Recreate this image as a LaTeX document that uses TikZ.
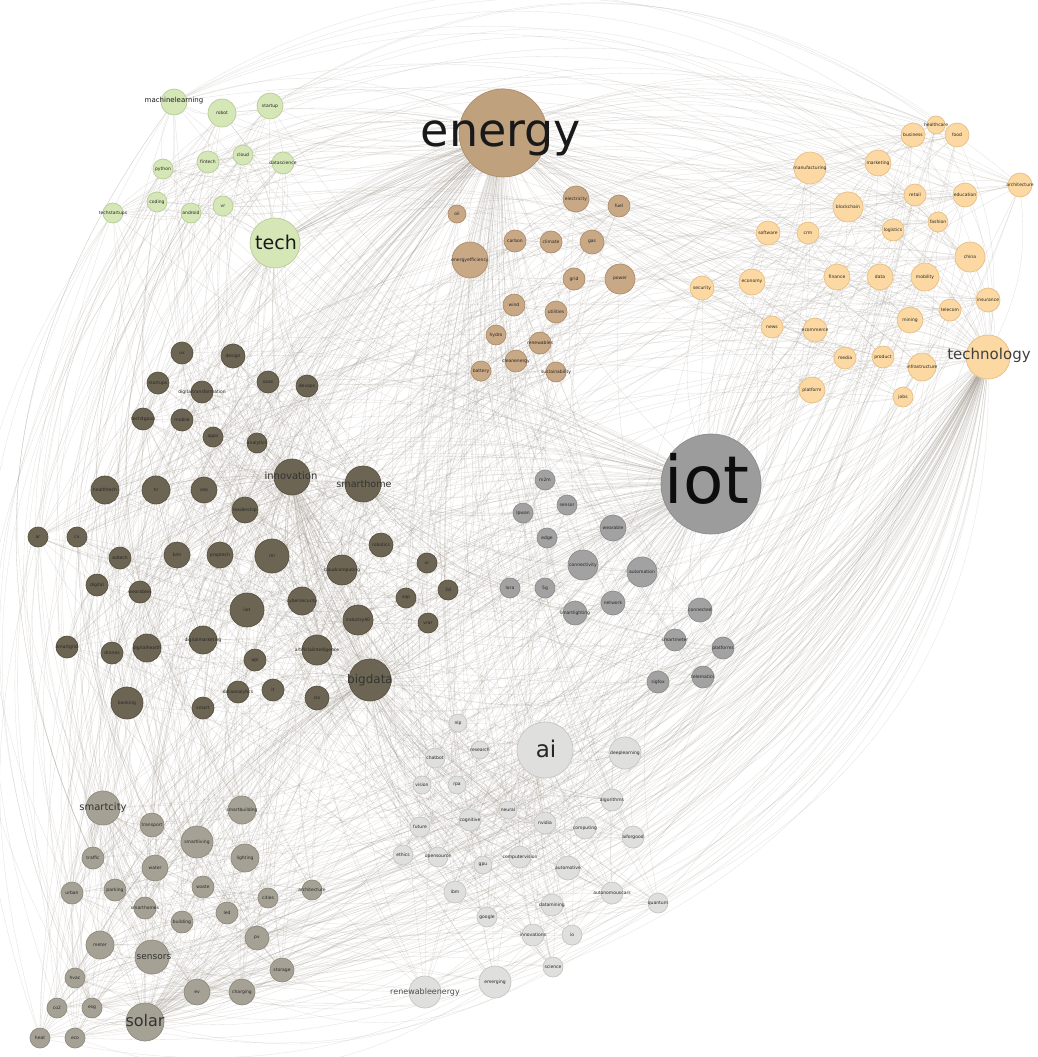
\documentclass[tikz,border=0pt]{standalone}
\usepackage{fontspec}
\setmainfont{DejaVu Sans}

\definecolor{cgreen}{HTML}{D5E6B7}\definecolor{cgreenb}{HTML}{B9CC98}
\definecolor{cbrown}{HTML}{C9A985}\definecolor{cbrownb}{HTML}{AD8D6B}
\definecolor{corange}{HTML}{FCD9A2}\definecolor{corangeb}{HTML}{E6BF86}
\definecolor{cdark}{HTML}{6D6553}\definecolor{cdarkb}{HTML}{59513F}
\definecolor{ciot}{HTML}{A2A2A2}\definecolor{ciotb}{HTML}{8C8C8C}
\definecolor{cai}{HTML}{DFDFDD}\definecolor{caib}{HTML}{C5C5C2}
\definecolor{csolar}{HTML}{A5A295}\definecolor{csolarb}{HTML}{8D8A7D}
\definecolor{edgec}{HTML}{9C9488}

\pgfdeclarelayer{bg}
\pgfdeclarelayer{links}
\pgfsetlayers{bg,links,main}

% every connector curves clockwise, as the layout program draws them
\tikzset{
  vtx/.style={circle, inner sep=0pt, line width=0.7pt},
  gnode/.style={vtx, fill=cgreen, draw=cgreenb},
  enode/.style={vtx, fill=cbrown, draw=cbrownb},
  onode/.style={vtx, fill=corange, draw=corangeb},
  dnode/.style={vtx, fill=cdark, draw=cdarkb},
  inode/.style={vtx, fill=ciot, draw=ciotb},
  anode/.style={vtx, fill=cai, draw=caib},
  snode/.style={vtx, fill=csolar, draw=csolarb},
  lab/.style={font=\fontsize{4.5}{5}\selectfont, text=black!85, inner sep=0pt},
  biglab/.style={inner sep=0pt, text=black!90},
  link/.style={draw=edgec, line width=0.3pt, opacity=0.3, bend right=15},
  farlink/.style={link, opacity=0.28},
}

\begin{document}
\begin{tikzpicture}[x=1pt,y=-1pt]
\begin{pgfonlayer}{bg}
  \fill[white] (0,0) rectangle (1038,1057);
\end{pgfonlayer}
\useasboundingbox (0,0) rectangle (1038,1057);

% ---------- green cluster ----------
\node[gnode, minimum size=50pt] (g0) at (275,243) {};
\node[biglab, font=\fontsize{19}{19}\selectfont] (g0t) at (276,242) {tech};
\node[gnode, minimum size=26pt] (g1) at (174,102) {};
\node[biglab, font=\fontsize{7}{7}\selectfont] (g1t) at (174,101) {machinelearning};
\foreach \nm/\x/\y/\dm/\lb in {g2/222/113/28/robot, g3/270/106/26/startup,
  g4/163/169/20/python, g5/208/162/22/fintech, g6/243/155/20/cloud,
  g7/283/163/22/datascience, g8/113/213/20/techstartups, g9/157/202/20/coding,
  g10/191/213/20/android, g11/223/206/20/vr}
  \node[gnode, minimum size=\dm pt, label={[lab]center:\lb}] (\nm) at (\x,\y) {};

% ---------- energy cluster ----------
\node[enode, fill=cbrown!95!black, minimum size=88pt] (e0) at (503,133) {};
\node[biglab, font=\fontsize{46}{46}\selectfont] (e0t) at (501,138) {energy};
\foreach \nm/\x/\y/\dm/\lb in {e1/457/214/18/oil, e2/576/199/26/electricity,
  e3/619/206/22/fuel, e4/515/241/22/carbon, e5/551/242/22/climate, e6/592/242/24/gas,
  e7/470/260/36/energyefficiency, e8/574/279/22/grid, e9/620/279/30/power,
  e10/514/305/22/wind, e11/556/312/22/utilities, e12/496/335/20/hydro,
  e13/540/343/22/renewables, e14/481/371/20/battery, e15/516/361/22/cleanenergy,
  e16/556/372/20/sustainability}
  \node[enode, minimum size=\dm pt, label={[lab]center:\lb}] (\nm) at (\x,\y) {};

% ---------- orange cluster ----------
\node[onode, minimum size=44pt] (o0) at (988,357) {};
\node[biglab, font=\fontsize{15}{15}\selectfont, text=black!75] (o0t) at (989,355) {technology};
\foreach \nm/\x/\y/\dm/\lb in {o1/936/125/18/healthcare, o2/913/135/24/business,
  o3/957/135/24/food, o4/810/168/32/manufacturing, o5/878/163/26/marketing,
  o6/1020/185/24/architecture, o7/915/195/22/retail, o8/965/195/24/education,
  o9/848/207/30/blockchain, o10/938/222/20/fashion, o11/893/230/22/logistics,
  o12/768/233/24/software, o13/808/233/22/crm, o14/970/257/30/china,
  o15/702/288/24/security, o16/752/282/26/economy, o17/837/277/26/finance,
  o18/880/277/26/data, o19/925/277/28/mobility, o20/988/300/24/insurance,
  o21/950/310/22/telecom, o22/910/320/26/mining, o23/772/327/22/news,
  o24/815/330/24/ecommerce, o25/845/358/22/media, o26/883/357/22/product,
  o27/922/367/28/infrastructure, o28/812/390/26/platform, o29/903/397/20/jobs}
  \node[onode, minimum size=\dm pt, label={[lab]center:\lb}] (\nm) at (\x,\y) {};

% ---------- dark cluster ----------
\node[dnode, minimum size=36pt] (d14) at (292,477) {};
\node[biglab, font=\fontsize{10}{10}\selectfont, text=black!80] (d14t) at (291,476) {innovation};
\node[dnode, minimum size=36pt] (d15) at (363,484) {};
\node[biglab, font=\fontsize{9.6}{10}\selectfont, text=black!80] (d15t) at (364,484) {smarthome};
\node[dnode, minimum size=42pt] (d40) at (370,680) {};
\node[biglab, font=\fontsize{12}{12}\selectfont, text=black!80] (d40t) at (370,680) {bigdata};
\foreach \nm/\x/\y/\dm/\lb in {d1/182/353/22/ux, d2/233/356/24/design,
  d3/158/383/22/startups, d4/202/392/22/digitaltransformation, d5/268/382/22/saas,
  d6/307/386/22/devops, d7/143/419/22/tech4good, d8/182/420/22/mobile,
  d9/213/437/20/apps, d10/257/443/20/analytics, d11/105/490/28/healthtech,
  d12/156/490/28/hr, d13/204/490/26/ceo, d16/245/510/26/leadership,
  d17/38/537/20/ar, d18/77/537/20/cx, d19/120/558/22/edtech, d20/177/555/26/bim,
  d21/220/555/26/proptech, d22/272/556/34/ml, d23/342/570/30/cloudcomputing,
  d24/381/545/24/robotics, d25/427/563/20/xr, d26/97/585/22/digital,
  d27/140/592/22/wearables, d28/247/610/34/iiot, d29/302/601/28/cybersecurity,
  d30/358/620/30/industry40, d31/406/598/20/sap, d32/448/590/20/3d,
  d33/428/623/20/vrar, d34/67/647/22/smartgrid, d35/112/653/22/drones,
  d36/147/648/28/digitalhealth, d37/203/640/28/digitalmarketing, d38/255/660/22/api,
  d39/317/650/30/artificialintelligence, d41/127/703/32/banking, d42/203/708/22/smart,
  d43/238/692/22/dataanalytics, d44/273/690/22/it, d45/317/698/24/cio}
  \node[dnode, minimum size=\dm pt, label={[lab]center:\lb}] (\nm) at (\x,\y) {};

% ---------- iot cluster ----------
\node[inode, fill=ciot!96!black, minimum size=100pt] (i0) at (711,484) {};
\node[biglab, font=\fontsize{66}{66}\selectfont, text=black!95] (i0t) at (707,479) {iot};
\foreach \nm/\x/\y/\dm/\lb in {i1/545/480/20/m2m, i2/523/513/20/lpwan,
  i3/567/505/20/sensor, i4/547/538/20/edge, i5/613/528/26/wearable,
  i6/583/565/30/connectivity, i7/642/572/30/automation, i8/510/588/20/lora,
  i9/545/588/20/5g, i10/575/613/24/smartlighting, i11/613/603/24/network,
  i12/700/610/24/connected, i13/675/640/22/smartmeter, i14/723/648/22/platforms,
  i15/658/682/22/sigfox, i16/703/677/22/telematics}
  \node[inode, minimum size=\dm pt, label={[lab]center:\lb}] (\nm) at (\x,\y) {};

% ---------- ai cluster ----------
\node[anode, minimum size=56pt] (a0) at (545,750) {};
\node[biglab, font=\fontsize{23}{23}\selectfont, text=black!85] (a0t) at (546,749) {ai};
\node[anode, minimum size=32pt] (a28) at (425,992) {};
\node[biglab, font=\fontsize{8}{8}\selectfont, text=black!70] (a28t) at (425,992) {renewableenergy};
\foreach \nm/\x/\y/\dm/\lb in {a1/458/723/18/nlp, a2/480/750/18/research,
  a3/435/758/20/chatbot, a4/625/753/32/deeplearning, a5/422/785/18/vision,
  a6/457/785/18/rpa, a7/612/800/22/algorithms, a8/508/810/18/neural,
  a9/470/820/22/cognitive, a10/545/823/22/nvidia, a11/585/828/22/computing,
  a12/420/827/20/future, a13/633/837/22/aiforgood, a14/403/855/20/ethics,
  a15/438/857/20/opensource, a16/483/865/18/gpu, a17/520/857/22/computervision,
  a18/568/868/24/automotive, a19/455/892/22/ibm, a20/487/917/20/google,
  a21/552/905/22/datamining, a22/612/893/22/autonomouscars, a23/658/903/20/quantum,
  a24/533/935/22/innovations, a25/572/935/20/io, a26/553/967/20/science,
  a27/495/982/32/emerging}
  \node[anode, minimum size=\dm pt, label={[lab]center:\lb}] (\nm) at (\x,\y) {};

% ---------- smart city / solar cluster ----------
\node[snode, minimum size=34pt] (s1) at (103,808) {};
\node[biglab, font=\fontsize{10}{10}\selectfont, text=black!80] (s1t) at (103,808) {smartcity};
\node[snode, minimum size=34pt] (s18) at (152,957) {};
\node[biglab, font=\fontsize{9}{9}\selectfont, text=black!80] (s18t) at (154,957) {sensors};
\node[snode, minimum size=38pt] (s25) at (145,1022) {};
\node[biglab, font=\fontsize{16}{16}\selectfont, text=black!80] (s25t) at (145,1021) {solar};
\foreach \nm/\x/\y/\dm/\lb in {s2/242/810/28/smartbuilding, s3/152/825/24/transport,
  s4/197/842/32/smartliving, s5/245/858/28/lighting, s6/93/858/22/traffic,
  s7/155/868/26/water, s8/72/893/22/urban, s9/115/890/22/parking,
  s10/203/887/22/waste, s11/268/898/20/cities, s12/312/890/20/architecture,
  s13/145/908/22/smarthomes, s14/227/913/22/led, s15/182/922/22/building,
  s16/257/938/24/pv, s17/100/945/28/meter, s19/282/970/24/storage,
  s20/75/978/20/hvac, s21/197/992/26/ev, s22/242/992/26/charging,
  s23/57/1008/20/co2, s24/92/1008/20/esg, s26/40/1038/20/heat, s27/75/1038/20/eco}
  \node[snode, minimum size=\dm pt, label={[lab]center:\lb}] (\nm) at (\x,\y) {};

% ---------- connectors ----------
\begin{pgfonlayer}{links}
  % hubs to their own clusters
  \foreach \k in {1,...,11} \draw[link] (g0) to (g\k);
  \foreach \k in {1,...,16} \draw[link] (e0) to (e\k);
  \foreach \k in {1,...,29} \draw[link] (o0) to (o\k);
  \foreach \k in {1,...,16} \draw[link] (i0) to (i\k);
  \foreach \k in {1,...,28} \draw[link] (a0) to (a\k);
  \foreach \k in {2,...,17,19,20,21,22,23,24,26,27} {
    \draw[link] (s1) to (s\k); \draw[link] (s25) to (s\k); \draw[link] (s18) to (s\k);}
  \draw[link] (s1) to (s18); \draw[link] (s1) to (s25); \draw[link] (s18) to (s25);
  \foreach \k in {1,...,13,16,17,...,39,41,42,43,44,45} {
    \draw[link] (d40) to (d\k); \draw[link] (d14) to (d\k);}
  \foreach \k in {1,...,13,16,17,...,39} \draw[link] (d15) to (d\k);

  % links inside clusters
  \foreach \k in {1,...,42} {\pgfmathtruncatemacro\m{\k+3}\draw[link] (d\k) to (d\m);}
  \foreach \k in {1,...,37} {\pgfmathtruncatemacro\m{\k+8}\draw[link] (d\k) to (d\m);}
  \foreach \k in {1,...,30} {\pgfmathtruncatemacro\m{\k+15}\draw[link] (d\k) to (d\m);}
  \foreach \k in {1,...,20} {\pgfmathtruncatemacro\m{\k+25}\draw[link] (d\k) to (d\m);}
  \foreach \k in {1,...,15} {\pgfmathtruncatemacro\m{\k+1}\draw[link] (i\k) to (i\m);}
  \foreach \k in {1,...,13} {\pgfmathtruncatemacro\m{\k+3}\draw[link] (i\k) to (i\m);}
  \foreach \k in {1,...,28} {\pgfmathtruncatemacro\m{\k+1}\draw[link] (o\k) to (o\m);}
  \foreach \k in {1,...,25} {\pgfmathtruncatemacro\m{\k+4}\draw[link] (o\k) to (o\m);}
  \foreach \k in {1,...,20} {\pgfmathtruncatemacro\m{\k+9}\draw[link] (o\k) to (o\m);}
  \foreach \k in {1,...,14} {\pgfmathtruncatemacro\m{\k+2}\draw[link] (e\k) to (e\m);}
  \foreach \k in {1,...,11} {\pgfmathtruncatemacro\m{\k+5}\draw[link] (e\k) to (e\m);}
  \foreach \k in {1,...,10} {\pgfmathtruncatemacro\m{\k+1}\draw[link] (g\k) to (g\m);}
  \foreach \k in {1,...,8}  {\pgfmathtruncatemacro\m{\k+3}\draw[link] (g\k) to (g\m);}
  \foreach \k in {1,...,26} {\pgfmathtruncatemacro\m{\k+2}\draw[link] (a\k) to (a\m);}
  \foreach \k in {1,...,23} {\pgfmathtruncatemacro\m{\k+5}\draw[link] (a\k) to (a\m);}
  \foreach \k in {1,...,25} {\pgfmathtruncatemacro\m{\k+2}\draw[link] (s\k) to (s\m);}
  \foreach \k in {1,...,22} {\pgfmathtruncatemacro\m{\k+5}\draw[link] (s\k) to (s\m);}
  \foreach \k in {1,...,18} {\pgfmathtruncatemacro\m{\k+9}\draw[link] (s\k) to (s\m);}

  % the big hubs across clusters
  \foreach \k in {1,...,45} {
    \draw[link, bend right=20] (e0) to (d\k);
    \draw[link] (i0) to (d\k);}
  \foreach \k in {1,...,29} {
    \draw[link] (e0) to (o\k);
    \draw[link] (o\k) to (i0);}
  \foreach \k in {1,...,28} {
    \draw[link] (i0) to (a\k);
    \draw[link, bend right=25] (a\k) to (o0);
    \draw[link, bend right=12] (e0) to (a\k);}
  \foreach \k in {1,...,27} {
    \draw[link] (i0) to (s\k);
    \draw[link, bend right=25] (s\k) to (o0);
    \draw[link, bend right=22] (e0) to (s\k);}
  \foreach \k in {1,...,16} {
    \draw[link] (e0) to (i\k);
    \draw[link, bend right=20] (i\k) to (o0);}
  \foreach \k in {1,2,5,6,10,14,15,22,28,40,23,30,39,16,9} \draw[link] (g0) to (d\k);
  \foreach \k in {1,4,7,10,13,16,19,22,25,27} \draw[link, bend right=30] (g0) to (s\k);
  \foreach \k in {1,...,16} \draw[link, bend right=25] (o\k) to (g0);
  \foreach \k in {3,8,14,22,30,40,11,36} \draw[link] (o0) to (d\k);
  \draw[link] (g0) to (e0); \draw[link] (g0) to (i0); \draw[link, bend right=25] (o0) to (g0);
  \draw[link] (g0) to (a0); \draw[link] (e0) to (i0); \draw[link] (e0) to (o0);
  \draw[link] (o0) to (i0); \draw[link] (i0) to (a0); \draw[link, bend right=25] (a0) to (o0);
  \foreach \k in {1,...,28} \draw[link] (d14) to (a\k);
  \foreach \k in {1,...,16} {\draw[link] (d40) to (i\k); \draw[link] (d15) to (i\k);}
  \foreach \k in {1,...,27} \draw[link] (d40) to (s\k);
  \foreach \k in {1,...,28} \draw[link] (d40) to (a\k);

  % scattered links between the clusters
  \foreach \k in {1,...,45} {
    \pgfmathtruncatemacro\m{mod(\k*7,16)+1}\draw[link] (d\k) to (i\m);
    \pgfmathtruncatemacro\m{mod(\k*5,28)+1}\draw[link] (d\k) to (a\m);
    \pgfmathtruncatemacro\m{mod(\k*11,27)+1}\draw[link] (d\k) to (s\m);
    \pgfmathtruncatemacro\m{mod(\k*3,29)+1}\draw[link] (o\m) to (d\k);
    \pgfmathtruncatemacro\m{mod(\k*13,16)+1}\draw[link] (e\m) to (d\k);
    \pgfmathtruncatemacro\m{mod(\k*4,27)+1}\draw[link] (d\k) to (s\m);}
  \foreach \k in {1,...,11} {
    \pgfmathtruncatemacro\m{mod(\k*5,27)+1}\draw[link, bend right=30] (g\k) to (s\m);
    \pgfmathtruncatemacro\m{mod(\k*11,27)+1}\draw[link, bend right=30] (g\k) to (s\m);
    \pgfmathtruncatemacro\m{mod(\k*7,28)+1}\draw[link, bend right=25] (g\k) to (a\m);
    \pgfmathtruncatemacro\m{mod(\k*4,45)+1}\draw[link] (g\k) to (d\m);
    \pgfmathtruncatemacro\m{mod(\k*9,45)+1}\draw[link] (g\k) to (d\m);
    \draw[link] (g\k) to (e0); \draw[link] (g\k) to (i0);}
  \foreach \k in {1,...,29} {
    \pgfmathtruncatemacro\m{mod(\k*3,11)+1}\draw[link, bend right=25] (o\k) to (g\m);
    \pgfmathtruncatemacro\m{mod(\k*7,27)+1}\draw[link, bend right=25] (s\m) to (o\k);
    \pgfmathtruncatemacro\m{mod(\k*5,28)+1}\draw[link, bend right=20] (a\m) to (o\k);
    \pgfmathtruncatemacro\m{mod(\k*3,16)+1}\draw[link] (o\k) to (e\m);}
  \foreach \k in {1,...,28} {
    \pgfmathtruncatemacro\m{mod(\k*7,27)+1}\draw[link] (s\m) to (a\k);
    \pgfmathtruncatemacro\m{mod(\k*5,16)+1}\draw[link] (i\m) to (a\k);
    \draw[link] (a\k) to (s25);}
  \foreach \k in {1,...,16} {
    \pgfmathtruncatemacro\m{mod(\k*7,16)+1}\draw[link] (e\k) to (i\m);
    \pgfmathtruncatemacro\m{mod(\k*5,27)+1}\draw[link, bend right=20] (e\k) to (s\m);
    \pgfmathtruncatemacro\m{mod(\k*3,28)+1}\draw[link] (e\k) to (a\m);}

  % wide arcs round the outside
  \foreach \k in {1,2,3,5,6,7,8,10,14} {
    \pgfmathtruncatemacro\m{mod(\k*2,4)+1}\draw[farlink, bend right=34] (o\k) to (g\m);
    \draw[farlink, bend right=22] (o\k) to (e0);}
  \foreach \k in {1,...,11} \draw[farlink, bend right=20] (e0) to (g\k);
  \foreach \k in {1,...,11} {
    \pgfmathtruncatemacro\m{mod(\k*3,9)+18}\draw[farlink, bend right=34] (g\k) to (s\m);
    \pgfmathtruncatemacro\m{mod(\k*5,8)+1}\draw[farlink, bend right=30] (g\k) to (s\m);}
  \foreach \k in {17,20,23,24,25,26,27,18,21,22,19,16} {
    \draw[farlink, bend right=32] (s\k) to (o0);
    \pgfmathtruncatemacro\m{mod(\k*3,8)+1}\draw[farlink, bend right=30] (s\k) to (o\m);
    \pgfmathtruncatemacro\m{mod(\k*5,8)+20}\draw[farlink, bend right=26] (s\k) to (a\m);}
  \foreach \k in {20,22,23,24,25,26,27,28} \draw[farlink, bend right=32] (a\k) to (o0);
\end{pgfonlayer}
\end{tikzpicture}
\end{document}
